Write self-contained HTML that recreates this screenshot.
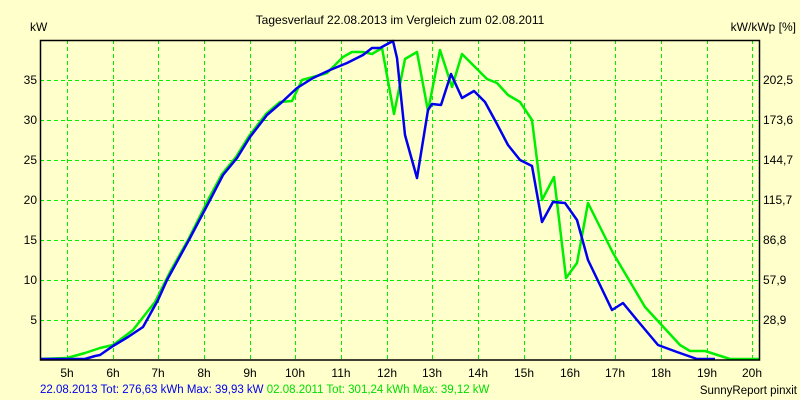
<!DOCTYPE html>
<html><head><meta charset="utf-8"><style>
html,body{margin:0;padding:0;background:#ffffcc;}
svg{display:block;font-family:"Liberation Sans",sans-serif;font-size:12px;}
</style></head><body>
<svg width="800" height="400" viewBox="0 0 800 400" xmlns="http://www.w3.org/2000/svg">
<rect width="800" height="400" fill="#ffffcc"/>
<g stroke="#00ee00" stroke-width="1" stroke-dasharray="4,3" shape-rendering="crispEdges">
<line x1="67.5" y1="40" x2="67.5" y2="360"/><line x1="113.5" y1="40" x2="113.5" y2="360"/><line x1="158.5" y1="40" x2="158.5" y2="360"/><line x1="204.5" y1="40" x2="204.5" y2="360"/><line x1="250.5" y1="40" x2="250.5" y2="360"/><line x1="295.5" y1="40" x2="295.5" y2="360"/><line x1="341.5" y1="40" x2="341.5" y2="360"/><line x1="387.5" y1="40" x2="387.5" y2="360"/><line x1="432.5" y1="40" x2="432.5" y2="360"/><line x1="478.5" y1="40" x2="478.5" y2="360"/><line x1="524.5" y1="40" x2="524.5" y2="360"/><line x1="570.5" y1="40" x2="570.5" y2="360"/><line x1="615.5" y1="40" x2="615.5" y2="360"/><line x1="661.5" y1="40" x2="661.5" y2="360"/><line x1="707.5" y1="40" x2="707.5" y2="360"/><line x1="752.5" y1="40" x2="752.5" y2="360"/>
<line x1="40" y1="320.5" x2="760" y2="320.5"/><line x1="40" y1="280.5" x2="760" y2="280.5"/><line x1="40" y1="240.5" x2="760" y2="240.5"/><line x1="40" y1="200.5" x2="760" y2="200.5"/><line x1="40" y1="160.5" x2="760" y2="160.5"/><line x1="40" y1="120.5" x2="760" y2="120.5"/><line x1="40" y1="80.5" x2="760" y2="80.5"/>
</g>
<polyline fill="none" stroke="#00ee00" stroke-width="2.5" stroke-linejoin="round" points="40,359 67,358 85,353 100,348 113,345 133,330 155,302 170,272 188,240 208,200 222,174 236,157 249,136 266,114 280,102 292,101 302,80 313,77 327,73 343,57 352,52 363,52 372,54 382,48 394,114 405,59 417,52 428,111 440,50 452,87 462,54 475,67 487,79 497,83 508,95 520,102 532,120 542,200 554,177 566,278 577,263 588,203 613,253 645,307 680,345 690,351 705,351 730,359 760,359"/>
<polyline fill="none" stroke="#0000ee" stroke-width="2.5" stroke-linejoin="round" points="40,359 85,359 95,356 100,355 113,346 128,337 143,327 158,300 167,280 190,238 210,200 223,175 237,158 250,137 267,115 282,102 297,88 313,78 330,70 347,63 363,55 372,48 380,48 393,41 397,58 405,135 410,153 417,178 428,110 432,104 441,105 451,74 462,98 474,91 485,102 497,124 508,145 520,160 532,166 542,222 553,202 565,203 577,220 588,260 612,310 623,303 637,320 658,345 677,352 697,359 715,359"/>
<rect x="40.5" y="40.5" width="719" height="319.5" fill="none" stroke="#000" stroke-width="1.5"/>
<g fill="#000" text-anchor="end">
<text x="37" y="324">5</text><text x="37" y="284">10</text><text x="37" y="244">15</text><text x="37" y="204">20</text><text x="37" y="164">25</text><text x="37" y="124">30</text><text x="37" y="84">35</text>
</g>
<g fill="#000">
<text x="763" y="324">28,9</text><text x="763" y="284">57,9</text><text x="763" y="244">86,8</text><text x="763" y="204">115,7</text><text x="763" y="164">144,7</text><text x="763" y="124">173,6</text><text x="763" y="84">202,5</text>
</g>
<g fill="#000" text-anchor="middle">
<text x="67" y="377">5h</text><text x="113" y="377">6h</text><text x="158" y="377">7h</text><text x="204" y="377">8h</text><text x="250" y="377">9h</text><text x="295" y="377">10h</text><text x="341" y="377">11h</text><text x="387" y="377">12h</text><text x="432" y="377">13h</text><text x="478" y="377">14h</text><text x="524" y="377">15h</text><text x="570" y="377">16h</text><text x="615" y="377">17h</text><text x="661" y="377">18h</text><text x="707" y="377">19h</text><text x="752" y="377">20h</text>
<text x="400" y="24">Tagesverlauf 22.08.2013 im Vergleich zum 02.08.2011</text>
</g>
<text x="30" y="31" fill="#000">kW</text>
<text x="796" y="31" fill="#000" text-anchor="end">kW/kWp [%]</text>
<text x="40" y="393" font-size="11.5"><tspan fill="#0000ee">22.08.2013 Tot: 276,63 kWh Max: 39,93 kW </tspan><tspan fill="#00dd00">02.08.2011 Tot: 301,24 kWh Max: 39,12 kW</tspan></text>
<text x="797" y="394" fill="#000" font-size="11.5" text-anchor="end">SunnyReport pinxit</text>
</svg>
</body></html>
